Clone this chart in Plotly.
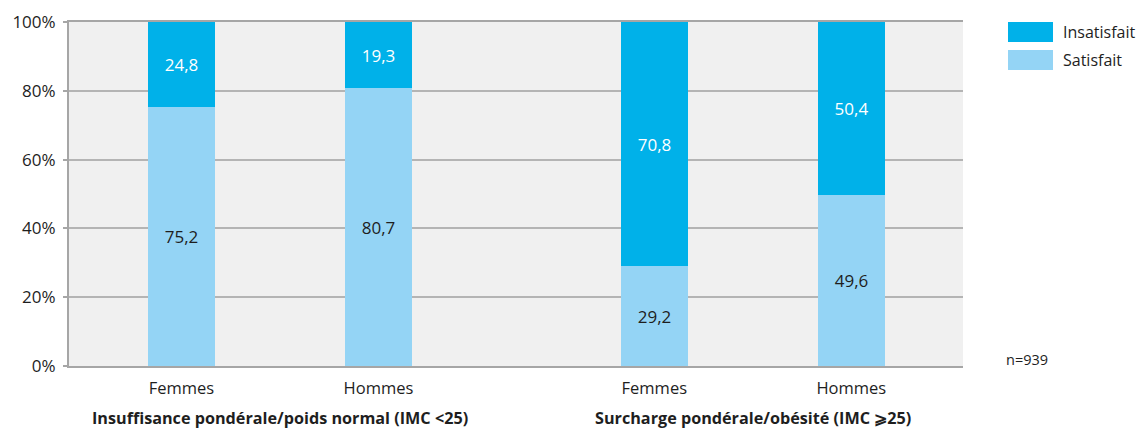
import plotly.graph_objects as go

groups = ["Insuffisance pondérale/poids normal (IMC <25)", "Surcharge pondérale/obésité (IMC \u2a7e25)"]
sexes = ["Femmes", "Hommes"]
satisfait = [75.2, 80.7, 29.2, 49.6]
insatisfait = [24.8, 19.3, 70.8, 50.4]
y_ticks = [0, 20, 40, 60, 80, 100]
y_ticktext = [f"{v}%" for v in y_ticks]
note = "n=939"

col_ins = "#00b1e9"
col_sat = "#94d4f5"
font_family = "Open Sans, Noto Sans, sans-serif"
text_col = "#1e1e1e"

# page body has an 8px margin: compensate
OFF = 8
W, H = 1145 - OFF, 430 - OFF
L, T = 69 - OFF, 22 - OFF
PW, PH = 894, 344

group_gap = 2.4
xpos = []
xlab = []
for gi, g in enumerate(groups):
    for si, s in enumerate(sexes):
        xpos.append(gi * group_gap + si)
        xlab.append(s)

fig = go.Figure()
fig.add_bar(x=xpos, y=satisfait, name="Satisfait", marker=dict(color=col_sat, line=dict(width=0)),
            width=0.34, texttemplate="%{y:.1f}", textposition="inside", insidetextanchor="middle",
            textfont=dict(color=text_col, size=17, family=font_family), showlegend=False)
fig.add_bar(x=xpos, y=insatisfait, name="Insatisfait", marker=dict(color=col_ins, line=dict(width=0)),
            width=0.34, texttemplate="%{y:.1f}", textposition="inside", insidetextanchor="middle",
            textfont=dict(color="white", size=17, family=font_family), showlegend=False)

fig.update_layout(
    barmode="stack",
    separators=", ",
    width=W, height=H,
    margin=dict(l=L, r=W - L - PW, t=T, b=H - T - PH, autoexpand=False),
    paper_bgcolor="white",
    plot_bgcolor="#f0f0f0",
    font=dict(family=font_family, size=16, color=text_col),
    uniformtext=dict(minsize=17, mode="show"),
    xaxis=dict(range=[-0.571, 3.967], tickvals=xpos, ticktext=xlab, showgrid=False,
               zeroline=False, showline=True, linecolor="#a6a6a6", linewidth=2, mirror=True,
               ticks="", ticklen=0, ticklabelstandoff=6, tickfont=dict(size=16.5, color=text_col)),
    yaxis=dict(range=[0, 100], tickvals=y_ticks, ticktext=y_ticktext, showgrid=True,
               gridcolor="#b4b4b4", gridwidth=1.5, zeroline=False, showline=True,
               linecolor="#a6a6a6", linewidth=2, ticks="outside", ticklen=4, tickcolor="#a6a6a6",
               tickwidth=1.5, ticklabelstandoff=4, tickfont=dict(size=17, color=text_col)),
    bargap=0,
)

# group labels
for gi, g in enumerate(groups):
    cx = gi * group_gap + 0.5
    fig.add_annotation(x=cx, xref="x", y=1 - (418 - 22) / PH, yref="paper", yanchor="middle",
                       text="<b>" + g + "</b>", showarrow=False,
                       font=dict(size=16.2, color=text_col, family=font_family))

# custom legend
leg = [("Insatisfait", col_ins), ("Satisfait", col_sat)]
for i, (name, c) in enumerate(leg):
    y0 = 22 + i * 28
    fig.add_shape(type="rect", xref="paper", yref="paper",
                  x0=(1008 - 69) / PW, x1=(1053 - 69) / PW,
                  y0=1 - (y0 + 20 - 22) / PH, y1=1 - (y0 - 22) / PH,
                  fillcolor=c, line=dict(width=0))
    fig.add_annotation(xref="paper", yref="paper", x=(1061 - 69) / PW, xanchor="left",
                       y=1 - (y0 + 10 - 22) / PH, yanchor="middle", text=name, showarrow=False,
                       font=dict(size=16, color=text_col, family=font_family))

fig.add_annotation(xref="paper", yref="paper", x=(1004 - 69) / PW, xanchor="left",
                   y=1 - (359 - 22) / PH, yanchor="middle", text=note, showarrow=False,
                   font=dict(size=14.5, color=text_col, family=font_family))

fig.write_html("out.html")
